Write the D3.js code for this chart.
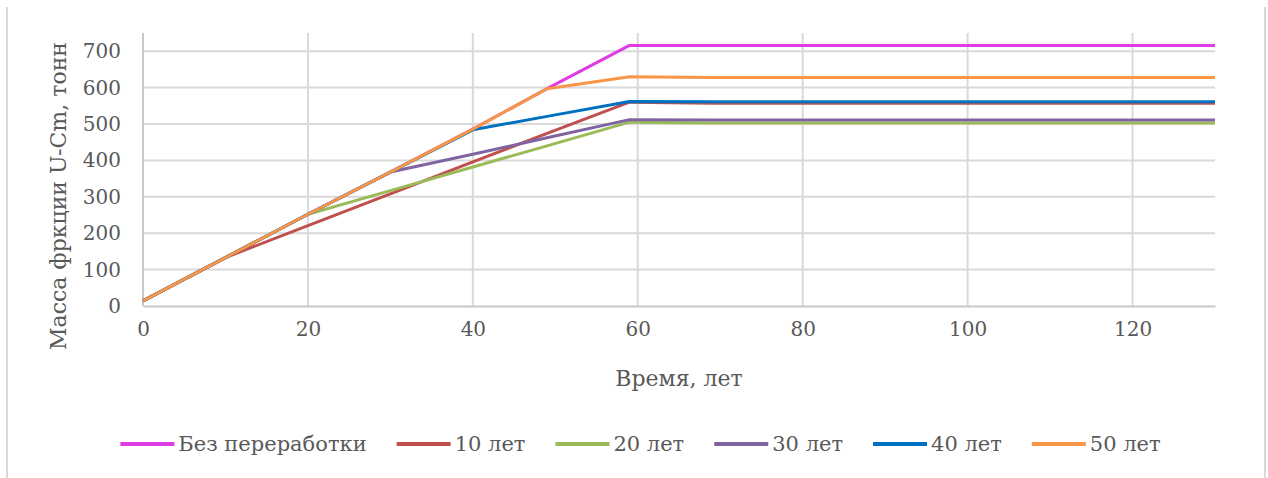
<!DOCTYPE html>
<html><head><meta charset="utf-8">
<script src="https://cdn.jsdelivr.net/npm/d3@7"></script>
<style>body{margin:0;background:#fff}svg{display:block}</style>
</head><body>
<svg id="c" width="1268" height="478"></svg>
<script>
const years = [0, 10, 20, 30, 40, 49, 59, 69, 130];
const seriesNames = ["Без переработки", "10 лет", "20 лет", "30 лет", "40 лет", "50 лет"];
const noRecycle = [14, 133, 252, 368, 486, 597, 716, 716, 716];
const r10 = [14, 133, 221, 308, 396, 474, 560, 557, 557];
const r20 = [14, 133, 252, 317, 382, 440, 505, 503, 503];
const r30 = [14, 133, 252, 368, 417, 462, 512, 511, 511];
const r40 = [14, 133, 252, 368, 484, 521, 562, 561, 561];
const r50 = [14, 133, 252, 368, 486, 597, 630, 628, 628];
const xTicks = [0, 20, 40, 60, 80, 100, 120];
const yTicks = [0, 100, 200, 300, 400, 500, 600, 700];
const colors = ["#e03ce3", "#c0504d", "#9bbb59", "#8064a2", "#0070c0", "#f79646"];
const allSeries = [noRecycle, r10, r20, r30, r40, r50];

const svg = d3.select("#c");
const font = "'DejaVu Serif', serif";
const txt = "#595959";
const grid = "#d9d9d9";

// outer frame
svg.append("line").attr("x1",7).attr("x2",7).attr("y1",7).attr("y2",478).attr("stroke",grid).attr("stroke-width",2);
svg.append("line").attr("x1",1265).attr("x2",1265).attr("y1",7).attr("y2",478).attr("stroke",grid).attr("stroke-width",2);

const x = d3.scaleLinear().domain([0,130]).range([143,1215]);
const y = d3.scaleLinear().domain([0,750]).range([306,33]);

// gridlines
svg.append("g").selectAll("line").data(yTicks.filter(d=>d>0)).join("line")
  .attr("x1",x(0)).attr("x2",x(130)).attr("y1",d=>y(d)).attr("y2",d=>y(d))
  .attr("stroke",grid).attr("stroke-width",2);
svg.append("g").selectAll("line").data(xTicks.filter(d=>d>0)).join("line")
  .attr("x1",d=>x(d)).attr("x2",d=>x(d)).attr("y1",y(750)).attr("y2",y(0))
  .attr("stroke",grid).attr("stroke-width",2);

// axes
const xAxis = svg.append("g").attr("transform",`translate(0,${y(0)})`)
  .call(d3.axisBottom(x).tickValues(xTicks).tickSize(0).tickPadding(16).tickFormat(d3.format("d")));
const yAxis = svg.append("g").attr("transform",`translate(${x(0)},0)`)
  .call(d3.axisLeft(y).tickValues(yTicks).tickSize(0).tickPadding(22).tickFormat(d3.format("d")));
[xAxis,yAxis].forEach(a=>{
  a.select(".domain").attr("stroke","#c8c8c8").attr("stroke-width",2);
  a.selectAll("text").attr("fill",txt).style("font-family",font).style("font-size","20px");
});
yAxis.select(".domain").attr("d",`M0,${y(750)}V${y(0)}`);

// lines
const line = d3.line().x((d,i)=>x(years[i])).y(d=>y(d));
allSeries.forEach((s,i)=>{
  svg.append("path").datum(s).attr("d",line).attr("fill","none")
    .attr("stroke",colors[i]).attr("stroke-width",3).attr("stroke-linejoin","round");
});

// axis titles
svg.append("text").attr("x",679).attr("y",386).attr("text-anchor","middle")
  .attr("fill",txt).style("font-family",font).style("font-size","22px").text("Время, лет");
svg.append("text").attr("transform","translate(66,196) rotate(-90)").attr("text-anchor","middle")
  .attr("fill",txt).style("font-family",font).style("font-size","22px").text("Масса фркции U-Cm, тонн");

// legend
const lg = svg.append("g");
let cx = 0;
seriesNames.forEach((n,i)=>{
  const g = lg.append("g").attr("transform",`translate(${cx},0)`);
  g.append("line").attr("x1",0).attr("x2",54).attr("y1",0).attr("y2",0).attr("stroke",colors[i]).attr("stroke-width",4);
  const t = g.append("text").attr("x",58).attr("y",7).attr("fill",txt).style("font-family",font).style("font-size","21px").text(n);
  const w = t.node().getComputedTextLength();
  cx += 58 + w + 30;
});
const total = cx - 30;
lg.attr("transform",`translate(${640.5 - total/2},444)`);
</script>
</body></html>
